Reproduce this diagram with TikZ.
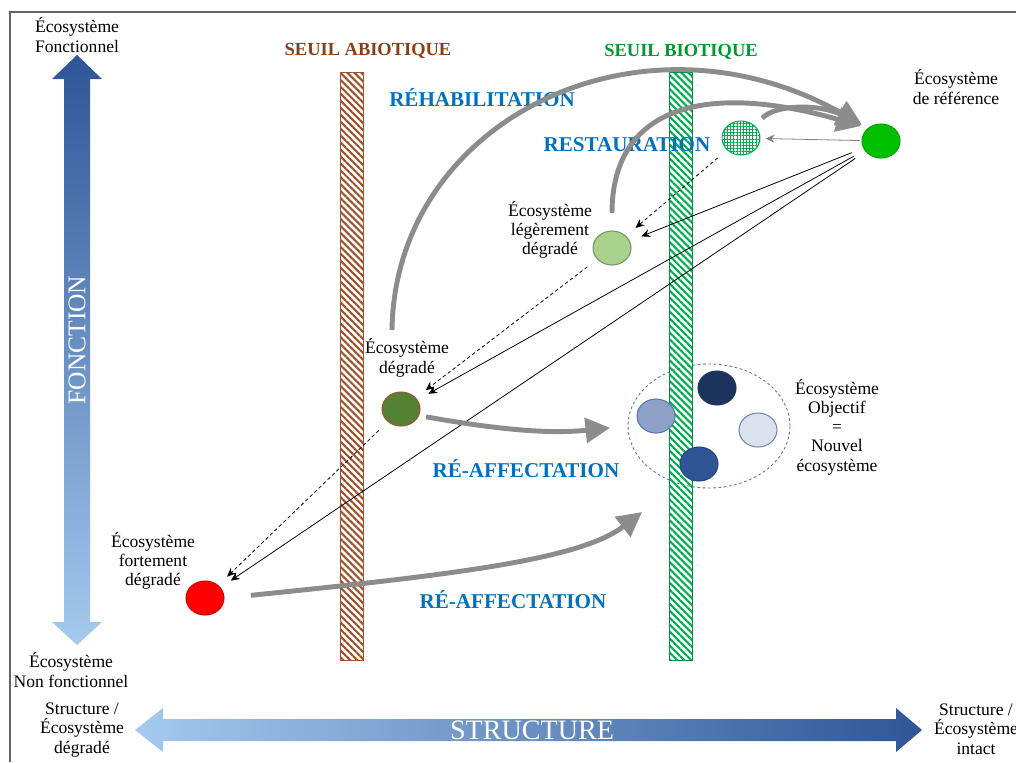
\documentclass[tikz,border=0pt]{standalone}
\usepackage{fontspec}
\setmainfont{Liberation Serif}
\usetikzlibrary{shapes.geometric,patterns.meta,arrows.meta}
\definecolor{abiotic}{HTML}{8B3E12}
\definecolor{abiobar}{HTML}{A0522D}
\definecolor{biotic}{HTML}{00992E}
\definecolor{biobar}{HTML}{00B050}
\definecolor{phaseblue}{HTML}{0070C0}
\definecolor{arrowgray}{HTML}{8C8C8C}
\definecolor{fdark}{HTML}{2F5597}
\definecolor{flight}{HTML}{A4CAEE}
\definecolor{refgreen}{HTML}{00C000}
\definecolor{leggreen}{HTML}{A9D18E}
\definecolor{deggreen}{HTML}{548235}
\definecolor{objblue}{HTML}{6072A8}

\begin{document}
\begin{tikzpicture}[x=0.02cm,y=-0.02cm
                   ,lbl/.style={align=center,inner sep=0pt,font=\fontsize{10}{11}\selectfont}
                   ,phase/.style={inner sep=0pt,text=phaseblue,font=\fontsize{12}{14}\selectfont\bfseries}
                   ,seuil/.style={inner sep=0pt,font=\fontsize{10.5}{12}\selectfont\bfseries}
                   ,eco/.style={ellipse,minimum width=0.76cm,minimum height=0.68cm,inner sep=0pt,line width=0.6pt}
                   ,bigarrow/.style={draw=arrowgray,line width=2.8pt,-{Triangle[length=14pt,width=14pt]}}
                   ,thinarrow/.style={line width=0.45pt,-{Stealth[length=5pt,width=4.5pt]},shorten <=7pt,shorten >=7pt}]
\useasboundingbox (0,0) rectangle (1016,762);
\draw [gray!80!black,line width=0.6pt] (10,762) -- (10,12) -- (1016,12);
\shade [top color=fdark,bottom color=flight] (77,55) -- (102,79) -- (90,79) -- (90,622) -- (102,622) -- (77,645) -- (52,622) -- (64,622) -- (64,79) -- (52,79) -- cycle;
\shade [left color=flight,right color=fdark] (135,730) -- (163,708) -- (163,719) -- (896,719) -- (896,708) -- (922,730) -- (896,752) -- (896,741) -- (163,741) -- (163,752) -- cycle;
\node [rotate=90,text=white,font=\fontsize{14.5}{16}\selectfont] (fonction) at (77,340) {FONCTION};
\node [text=white,font=\fontsize{16}{18}\selectfont] (structure) at (532,730) {STRUCTURE};
\node [lbl] (fonctlbl) at (77,35) {Écosystème\\Fonctionnel};
\node [lbl] (nonfonctlbl) at (71,670) {Écosystème\\Non fonctionnel};
\node [lbl] (degradelbl) at (82,730) {Structure /\\Écosystème\\dégradé};
\node [lbl] (intactlbl) at (976,729) {Structure /\\Écosystème\\intact};
\node [ellipse,draw=objblue,line width=0.5pt,dash pattern=on 1.5pt off 1.5pt,minimum width=3.24cm,minimum height=2.48cm] (obj) at (709,426) {};
\draw [draw=abiobar,line width=0.5pt,pattern={Lines[angle=-45,distance=2.8pt,line width=1.2pt]},pattern color=abiobar] (340,72) rectangle (363,660);
\draw [draw=biobar!80!black,line width=0.5pt,pattern={Lines[angle=-45,distance=2.8pt,line width=1.2pt]},pattern color=biobar] (669,72) rectangle (692,660);
\node [seuil,text=abiotic] (abio) at (368,51) {SEUIL ABIOTIQUE};
\node [seuil,text=biotic] (bio) at (681,52) {SEUIL BIOTIQUE};
\node [eco,fill=refgreen,draw=refgreen!85!black] (ref) at (881,141) {};
\node [eco,draw=biobar,pattern={Hatch[distance=1.8pt,line width=0.4pt]},pattern color=biobar] (rest) at (741,138) {};
\node [eco,fill=leggreen,draw=leggreen!70!black] (leg) at (612,248) {};
\node [eco,fill=deggreen,draw=abiobar] (deg) at (401,409) {};
\node [eco,fill=red,draw=red!85!black] (strong) at (205,598) {};
\node [eco,fill=fdark!55!white,draw=fdark!80!white] (obja) at (656,416) {};
\node [eco,fill=fdark!60!black,draw=fdark!60!black] (objb) at (717,388) {};
\node [eco,fill=fdark!17!white,draw=fdark!70!white] (objc) at (758,430) {};
\node [eco,fill=fdark,draw=fdark!80!black] (objd) at (699,464) {};
\node [lbl] (reflbl) at (956,87) {Écosystème\\de référence};
\node [lbl] (leglbl) at (550,230) {Écosystème\\légèrement\\dégradé};
\node [lbl] (deglbl) at (407,358) {Écosystème\\dégradé};
\node [lbl] (stronglbl) at (153,561) {Écosystème\\fortement\\dégradé};
\node [lbl] (objlbl) at (837,427) {Écosystème\\Objectif\\=\\Nouvel\\écosystème};
\node [phase] (rehablbl) at (482,98) {RÉHABILITATION};
\node [phase] (restlbl) at (627,145) {RESTAURATION};
\node [phase] (reaffa) at (526,469) {RÉ-AFFECTATION};
\node [phase] (reaffb) at (513,600) {RÉ-AFFECTATION};
\draw [thinarrow,gray,shorten <=1pt,shorten >=3pt] (ref) -- (rest);
\draw [thinarrow] (ref) -- (leg);
\draw [thinarrow] (ref) -- (deg);
\draw [thinarrow] (ref) -- (strong);
\draw [thinarrow,dash pattern=on 2pt off 1.5pt] (rest) -- (leg);
\draw [thinarrow,dash pattern=on 2pt off 1.5pt] (leg) -- (deg);
\draw [thinarrow,dash pattern=on 2pt off 1.5pt] (deg) -- (strong);
\coordinate (rehabstart) at (392,330);
\coordinate (reaffend) at (642,512);
\draw [bigarrow,shorten >=4pt] (rehabstart) .. controls (395,120) and (640,0) .. (ref.135);
\draw [bigarrow,shorten <=10pt,shorten >=4pt] (leg.north) .. controls (612,110) and (700,80) .. (ref.135);
\draw [bigarrow,shorten <=6pt,shorten >=4pt] (rest.40) .. controls (775,104) and (820,104) .. (ref.135);
\draw [bigarrow,shorten <=4pt,shorten >=10pt] (deg.-20) .. controls (500,430) and (550,434) .. (obj.west);
\draw [bigarrow,shorten <=15pt] (strong.east) .. controls (450,575) and (580,560) .. (reaffend);
\end{tikzpicture}
\end{document}
